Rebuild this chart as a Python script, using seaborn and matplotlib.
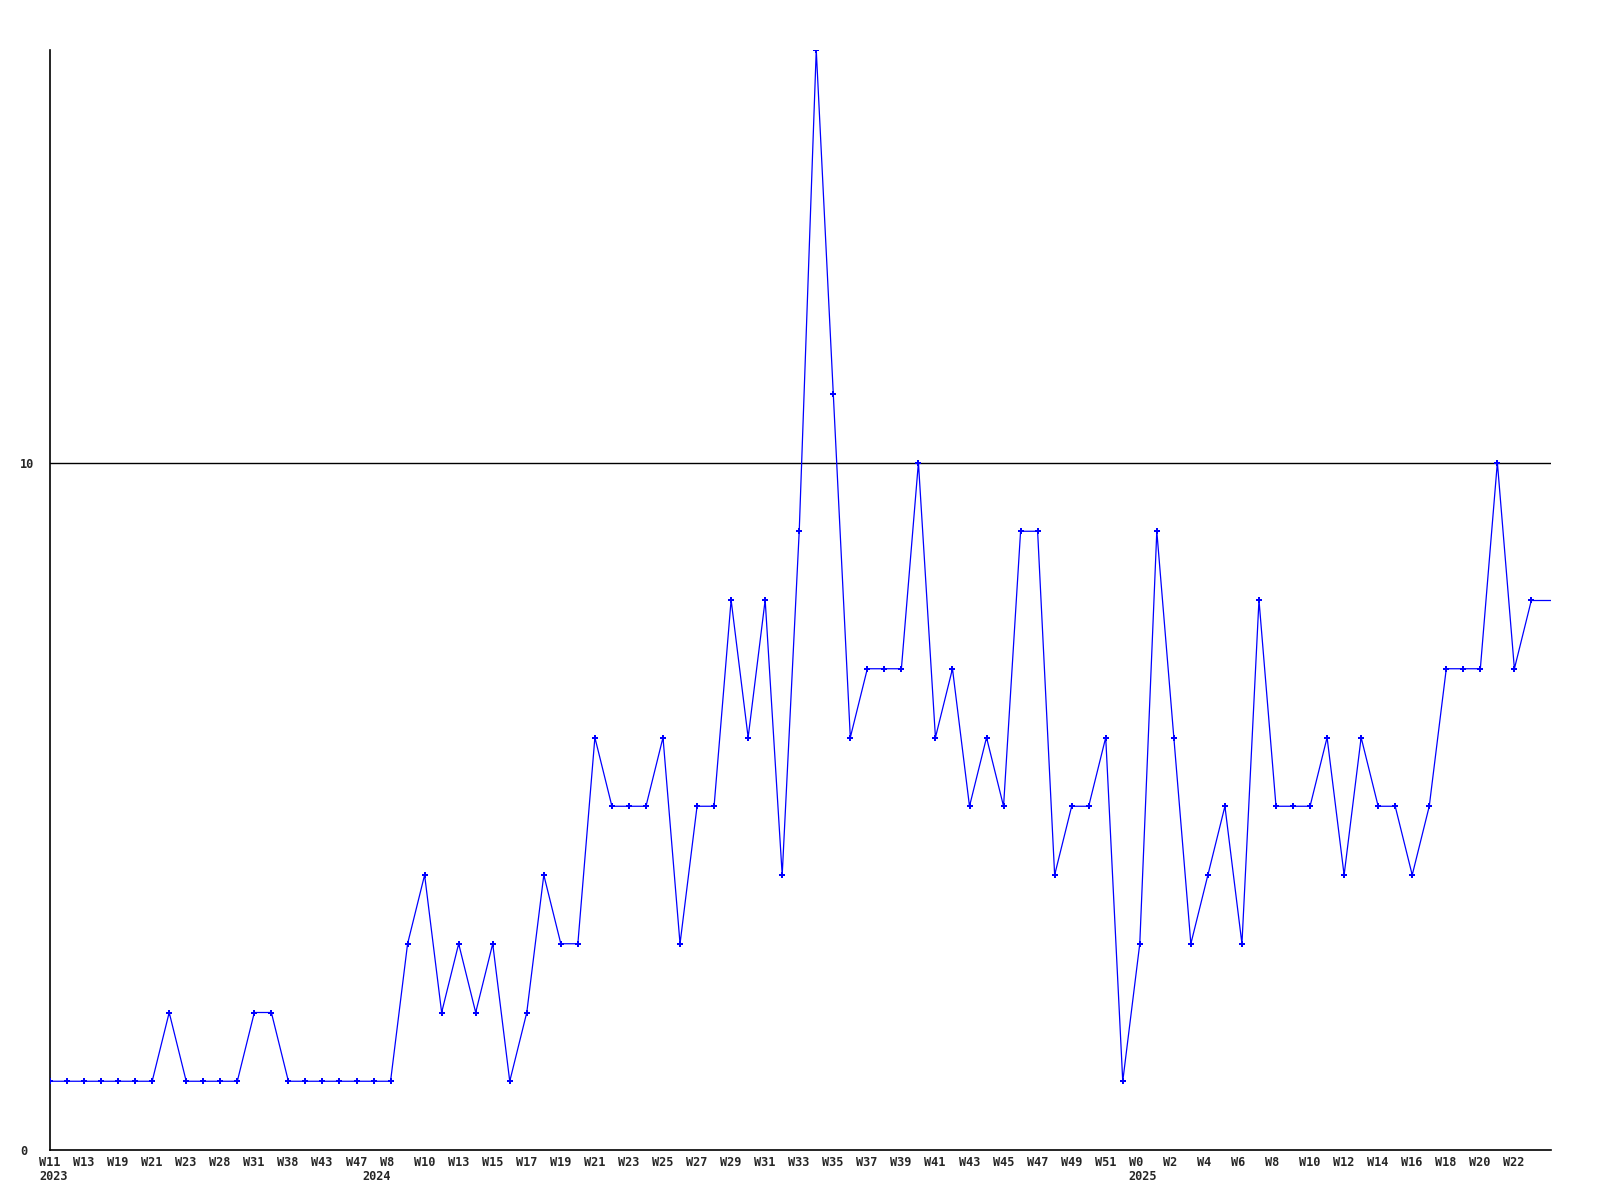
"""
Weekly count chart, W11 2023 .. W23 2025
"""

import numpy as np
import pandas as pd
import matplotlib
matplotlib.use('Agg')
import matplotlib.pyplot as plt
from matplotlib.transforms import offset_copy
import seaborn as sns

# one value per week, oldest first
counts = [1, 1, 1, 1, 1, 1, 1, 2, 1, 1,
          1, 1, 2, 2, 1, 1, 1, 1, 1, 1,
          1, 3, 4, 2, 3, 2, 3, 1, 2, 4,
          3, 3, 6, 5, 5, 5, 6, 3, 5, 5,
          8, 6, 8, 4, 9, 16, 11, 6, 7, 7,
          7, 10, 6, 7, 5, 6, 5, 9, 9, 4,
          5, 5, 6, 1, 3, 9, 6, 3, 4, 5,
          3, 8, 5, 5, 5, 6, 4, 6, 5, 5,
          4, 5, 7, 7, 7, 10, 7, 8]

# labels shown on every second week
week_labels = ['W11', 'W13', 'W19', 'W21', 'W23', 'W28', 'W31', 'W38', 'W43', 'W47',
               'W8', 'W10', 'W13', 'W15', 'W17', 'W19', 'W21', 'W23', 'W25', 'W27',
               'W29', 'W31', 'W33', 'W35', 'W37', 'W39', 'W41', 'W43', 'W45', 'W47',
               'W49', 'W51', 'W0', 'W2', 'W4', 'W6', 'W8', 'W10', 'W12', 'W14',
               'W16', 'W18', 'W20', 'W22']

# year label and the week index where that year starts
years = ['2023', '2024', '2025']
year_start = [0, 19, 64]

y_ticks = [0, 10]
ref_level = 10

df = pd.DataFrame({'week': np.arange(len(counts)), 'count': counts})

sns.set_style('white')
plt.rcParams['font.family'] = ['DejaVu Sans Mono']
plt.rcParams['font.weight'] = 'bold'

fig = plt.figure(figsize=(16, 12), dpi=100)
ax = fig.add_axes([50 / 1600, 50 / 1200, 1501 / 1600, 1100 / 1200])

x_end = len(counts) + 0.15
ax.set_xlim(0, x_end)
ax.set_ylim(0, 16)

# reference line at 10
ax.axhline(ref_level, color='black', lw=1.0, zorder=1)

sns.lineplot(data=df, x='week', y='count', ax=ax, color='#0000ff', lw=0.9,
             marker='P', markersize=4.5, markeredgewidth=0, zorder=3)
# line carries the last value on to the right edge
ax.plot([df['week'].iloc[-1], x_end], [counts[-1]] * 2, color='#0000ff', lw=0.9,
        zorder=3)

for side in ['top', 'right']:
    ax.spines[side].set_visible(False)
for side in ['left', 'bottom']:
    ax.spines[side].set_color('black')
    ax.spines[side].set_linewidth(1.2)

ax.set_xlabel('')
ax.set_ylabel('')
ax.set_xticks([])
ax.set_yticks(y_ticks)
ax.set_yticklabels([str(t) for t in y_ticks], fontsize=8.6, fontweight='bold',
                   ha='left')
ax.tick_params(axis='y', length=0, pad=21.5)

xtr = ax.get_xaxis_transform()
week_tr = offset_copy(xtr, fig=fig, x=-11, y=-12, units='dots')
year_tr = offset_copy(xtr, fig=fig, x=-11, y=-27, units='dots')
for i, lab in enumerate(week_labels):
    ax.text(2 * i, 0, lab, transform=week_tr, fontsize=8.6, fontweight='bold',
            ha='left', va='center', clip_on=False)
for yr, pos in zip(years, year_start):
    ax.text(pos, 0, yr, transform=year_tr, fontsize=8.6, fontweight='bold',
            ha='left', va='center', clip_on=False)

fig.savefig('out.png', dpi=100)
